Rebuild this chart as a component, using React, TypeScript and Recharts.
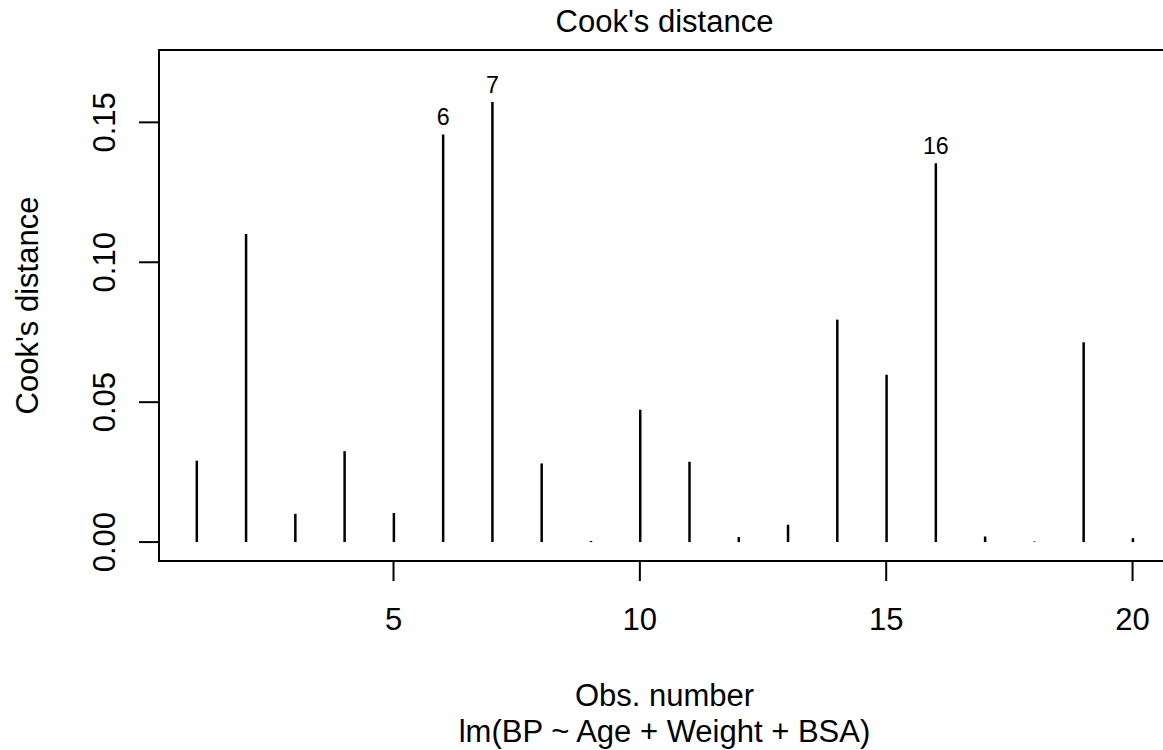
import React from "react";
import {
  ComposedChart,
  Bar,
  XAxis,
  YAxis,
  LabelList,
  ReferenceArea,
} from "recharts";

const obsNumbers = [1, 2, 3, 4, 5, 6, 7, 8, 9, 10, 11, 12, 13, 14, 15, 16, 17, 18, 19, 20];
const cooksDistance = [
  0.0291, 0.1101, 0.0101, 0.0325, 0.0104, 0.1457, 0.1573, 0.0281, 0.0004, 0.0473,
  0.0287, 0.0018, 0.0062, 0.0795, 0.0598, 0.1354, 0.002, 0.0002, 0.0714, 0.0014,
];
const labeledObs = [6, 7, 16];
const xTicks = [5, 10, 15, 20];
const yTicks = [0, 0.05, 0.1, 0.15];

const data = obsNumbers.map((obs, i) => ({ obs, cook: cooksDistance[i] }));

// R-style axis limits: ylim = c(0, max * 1.075), then 4% padding on both axes
const yTop = Math.max(...cooksDistance) * 1.075;
const yDomain = [-0.04 * yTop, yTop * 1.04];
const xSpan = obsNumbers[obsNumbers.length - 1] - obsNumbers[0];
const xDomain = [obsNumbers[0] - 0.04 * xSpan, obsNumbers[obsNumbers.length - 1] + 0.04 * xSpan];

const FONT = '"Liberation Sans", Arial, Helvetica, sans-serif';
const FS = 31;
const W = 1200;
const H = 750;

const StickShape = (props: any) => {
  const { x, y, width, height } = props;
  const cx = x + width / 2;
  return <line x1={cx} y1={y} x2={cx} y2={y + height} stroke="#000" strokeWidth={2.5} />;
};

const XTick = ({ x, y, payload }: any) => (
  <text x={x} y={y} textAnchor="middle" fontFamily={FONT} fontSize={FS} fill="#000">
    {payload.value}
  </text>
);

const YTick = ({ x, y, payload }: any) => (
  <text
    x={x}
    y={y}
    textAnchor="middle"
    transform={`rotate(-90 ${x} ${y})`}
    fontFamily={FONT}
    fontSize={FS}
    fill="#000"
  >
    {payload.value.toFixed(2)}
  </text>
);

const IdLabel = (props: any) => {
  const { x, y, width, index } = props;
  const obs = obsNumbers[index];
  if (!labeledObs.includes(obs)) return null;
  return (
    <text x={x + width / 2} y={y - 9} textAnchor="middle" fontFamily={FONT} fontSize={FS * 0.75} fill="#000">
      {obs}
    </text>
  );
};

export default function App() {
  return (
    <div style={{ position: "absolute", left: 0, top: 0, width: 1163, height: 750, overflow: "hidden", background: "#fff" }}>
      <ComposedChart
        width={W}
        height={H}
        data={data}
        margin={{ top: 50, right: 30, bottom: 0, left: 0 }}
      >
        <XAxis
          dataKey="obs"
          type="number"
          domain={xDomain}
          ticks={xTicks}
          allowDataOverflow
          height={189}
          axisLine={false}
          tickSize={20}
          tickMargin={49}
          tickLine={{ stroke: "#000", strokeWidth: 2 }}
          tick={<XTick />}
        />
        <YAxis
          type="number"
          domain={yDomain}
          ticks={yTicks}
          allowDataOverflow
          width={159}
          axisLine={false}
          tickSize={20}
          tickMargin={24}
          tickLine={{ stroke: "#000", strokeWidth: 2 }}
          tick={<YTick />}
        />
        <ReferenceArea
          x1={xDomain[0]}
          x2={xDomain[1]}
          y1={yDomain[0]}
          y2={yDomain[1]}
          fill="none"
          fillOpacity={0}
          stroke="#000"
          strokeWidth={2}
          ifOverflow="visible"
        />
        <Bar dataKey="cook" barSize={2} shape={<StickShape />} isAnimationActive={false}>
          <LabelList dataKey="cook" content={<IdLabel />} />
        </Bar>
        <text x={664.5} y={32} textAnchor="middle" fontFamily={FONT} fontSize={FS} fill="#000">
          Cook's distance
        </text>
        <text
          x={38}
          y={305.5}
          textAnchor="middle"
          transform="rotate(-90 38 305.5)"
          fontFamily={FONT}
          fontSize={FS}
          fill="#000"
        >
          Cook's distance
        </text>
        <text x={664.5} y={706} textAnchor="middle" fontFamily={FONT} fontSize={FS} fill="#000">
          Obs. number
        </text>
        <text x={664.5} y={742} textAnchor="middle" fontFamily={FONT} fontSize={FS} fill="#000">
          lm(BP ~ Age + Weight + BSA)
        </text>
      </ComposedChart>
    </div>
  );
}
